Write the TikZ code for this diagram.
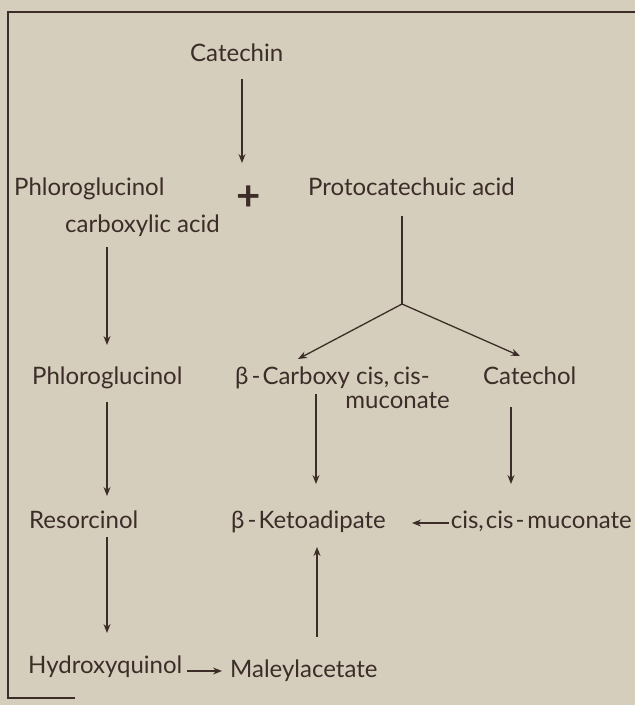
\documentclass[tikz,border=0pt]{standalone}
\usepackage{fontspec}
\setmainfont{Lato}
\usetikzlibrary{arrows.meta}
\definecolor{paper}{HTML}{D6CEBC}
\definecolor{ink}{HTML}{3C2D28}
\begin{document}
\begin{tikzpicture}[x=1pt,y=-1pt,
  lab/.style={anchor=base west, inner sep=0pt, font=\fontsize{24}{28}\selectfont, text=ink},
  arr/.style={draw=ink, line width=1.3pt, -{Stealth[length=9pt,width=7pt,inset=3pt]}},
  ln/.style={draw=ink, line width=1.3pt}]
\fill[paper] (0,0) rectangle (635,705);
\useasboundingbox (0,0) rectangle (635,705);
\draw[ink, line width=1.8pt] (635,12) -- (8,12) -- (8,698) -- (75,698);
% labels
\node[lab] (cat) at (190,61) {Catechin};
\node[text=ink, inner sep=0pt, font=\bfseries\fontsize{42}{42}\selectfont] (plus) at (249,198) {+};
\node[lab] (phlo) at (14,195) {Phloroglucinol};
\node[lab] (proto) at (308,195) {Protocatechuic acid};
\node[lab] (carb) at (65,232) {carboxylic acid};
\node[lab] (phlo2) at (32,384) {Phloroglucinol};
\node[lab] (bcarb) at (235,384) {β\kern3pt-\kern2pt{}Carboxy cis,\kern4pt{}cis-};
\node[lab, anchor=base east] (mucon) at (450,408) {muconate};
\node[lab] (catechol) at (483,384) {Catechol};
\node[lab] (resor) at (29,528) {Resorcinol};
\node[lab] (keto) at (231,528) {β\kern3pt-\kern2pt{}Ketoadipate};
\node[lab, anchor=base east] (ccm) at (632,528) {cis,\kern2pt{}cis\kern2pt-\kern3pt{}muconate};
\node[lab] (hydq) at (28,673) {Hydroxyquinol};
\node[lab] (male) at (230,677) {Maleylacetate};
% connector ends
\coordinate (c1a) at (242,79);  \coordinate (c1b) at (242,163);
\coordinate (pa) at (402,216);  \coordinate (br) at (402,304);
\coordinate (b1) at (298,359);  \coordinate (b2) at (520,356);
\coordinate (c2a) at (107,247); \coordinate (c2b) at (107,345);
\coordinate (c3a) at (107,402); \coordinate (c3b) at (107,496);
\coordinate (c4a) at (107,537); \coordinate (c4b) at (107,633);
\coordinate (c5a) at (316,394); \coordinate (c5b) at (316,484);
\coordinate (c6a) at (511,407); \coordinate (c6b) at (511,484);
\coordinate (c7a) at (449,523); \coordinate (c7b) at (412,523);
\coordinate (c8a) at (187,671); \coordinate (c8b) at (222,671);
\coordinate (c9a) at (317,637); \coordinate (c9b) at (317,547);
% connectors
\draw[arr] (c1a) -- (c1b);
\draw[ln] (pa) -- (br);
\draw[arr] (br) -- (b1);
\draw[arr] (br) -- (b2);
\draw[arr] (c2a) -- (c2b);
\draw[arr] (c3a) -- (c3b);
\draw[arr] (c4a) -- (c4b);
\draw[arr] (c5a) -- (c5b);
\draw[arr] (c6a) -- (c6b);
\draw[arr] (c7a) -- (c7b);
\draw[arr] (c8a) -- (c8b);
\draw[arr] (c9a) -- (c9b);
\end{tikzpicture}
\end{document}
